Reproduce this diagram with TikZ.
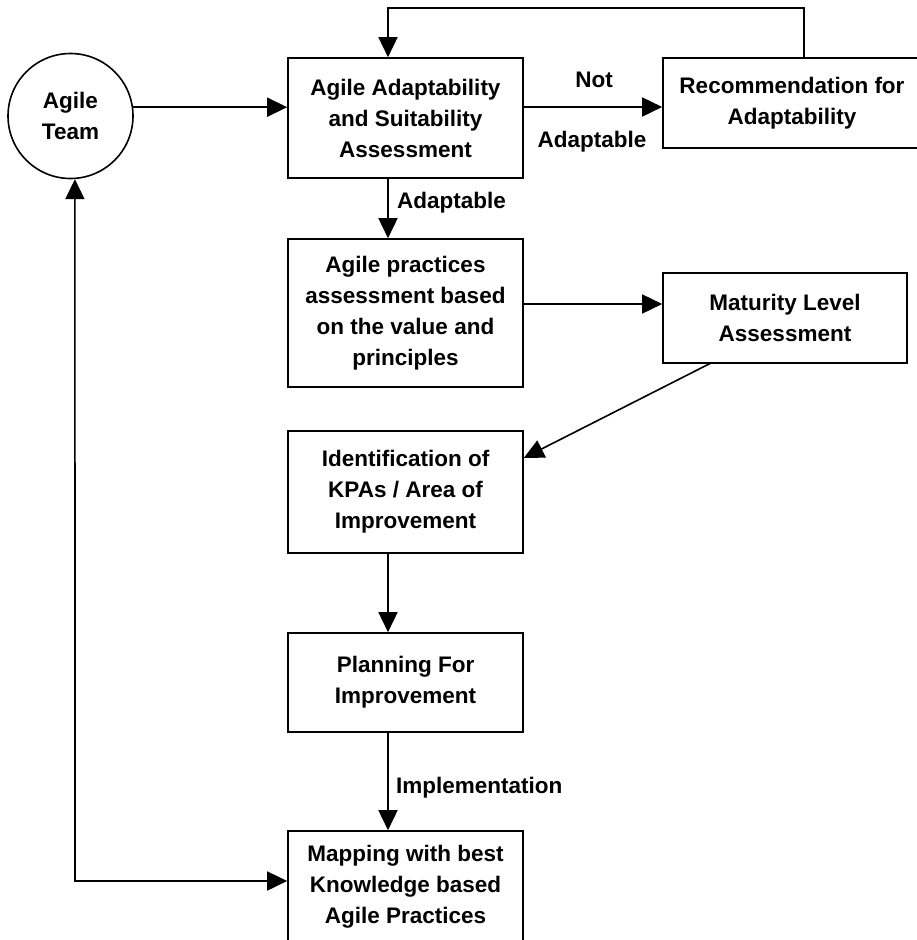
\documentclass[tikz,border=0pt]{standalone}
\usepackage{fontspec}
\setmainfont{Liberation Sans}
\usetikzlibrary{arrows.meta}
\newcommand{\dgfont}{\fontsize{22.5}{31}\selectfont\bfseries}
\begin{document}
\begin{tikzpicture}[x=1pt,y=-1pt,
  box/.style={draw, line width=1.6pt, align=center, font=\dgfont, inner sep=0pt},
  lbl/.style={font=\dgfont, inner sep=0pt},
  arr/.style={line width=1.6pt, -{Triangle[length=20pt,width=19pt]}},
  arrb/.style={line width=1.6pt, {Triangle[length=20pt,width=19pt]}-{Triangle[length=20pt,width=19pt]}}]
\useasboundingbox[fill=white] (0,0) rectangle (917,940);
\clip (0,0) rectangle (917,940);

% nodes
\node[box, circle, minimum size=125pt] (team) at (70.5,116) {Agile\\Team};
\node[box, minimum width=235pt, minimum height=120pt] (assess) at (405.5,118)
  {Agile Adaptability\\and Suitability\\Assessment};
\node[box, minimum width=258pt, minimum height=90pt] (rec) at (792,103)
  {Recommendation for\\Adaptability};
\node[box, minimum width=235pt, minimum height=148pt] (prac) at (405.5,313)
  {Agile practices\\assessment based\\on the value and\\principles};
\node[box, minimum width=244pt, minimum height=90pt] (mat) at (785,318)
  {Maturity Level\\Assessment};
\node[box, minimum width=235pt, minimum height=122pt] (ident) at (405.5,492)
  {Identification of\\KPAs / Area of\\Improvement};
\node[box, minimum width=235pt, minimum height=99pt] (plan) at (405.5,682.5)
  {Planning For\\Improvement};
\node[box, minimum width=235pt, minimum height=112pt] (map) at (405.5,887)
  {Mapping with best\\Knowledge based\\Agile Practices};

% helper coordinates
\coordinate (yA) at (0,107);
\coordinate (yTop) at (0,8);
\coordinate (xMain) at (388,0);
\coordinate (xRec) at (804,0);
\coordinate (yP) at (0,304);
\coordinate (dS) at (711,363);
\coordinate (dE) at (0,458);
\coordinate (xL) at (75,0);
\coordinate (yM) at (0,881);

% connectors
\draw[arr] (team.8.3) -- (team.8.3 -| assess.west);
\draw[arr] (assess.east |- yA) -- (rec.west |- yA);
\draw[arr] (rec.north -| xRec) -- (xRec |- yTop) -- (xMain |- yTop) -- (assess.north -| xMain);
\draw[arr] (assess.south -| xMain) -- (prac.north -| xMain);
\draw[arr] (prac.east |- yP) -- (mat.west |- yP);
\draw[arr] (dS) -- (ident.east |- dE);
\draw[arr] (ident.south -| xMain) -- (plan.north -| xMain);
\draw[arr] (plan.south -| xMain) -- (map.north -| xMain);
\draw[arrb] (team.-86) -- (xL |- yM) -- (map.west |- yM);

% labels
\node[lbl, anchor=west] (lAd) at (397,203) {Adaptable};
\node[lbl] (lNot) at (594,80) {Not};
\node[lbl] (lNotAd) at (592,142) {Adaptable};
\node[lbl, anchor=west] (lImp) at (396,788) {Implementation};
\end{tikzpicture}
\end{document}
